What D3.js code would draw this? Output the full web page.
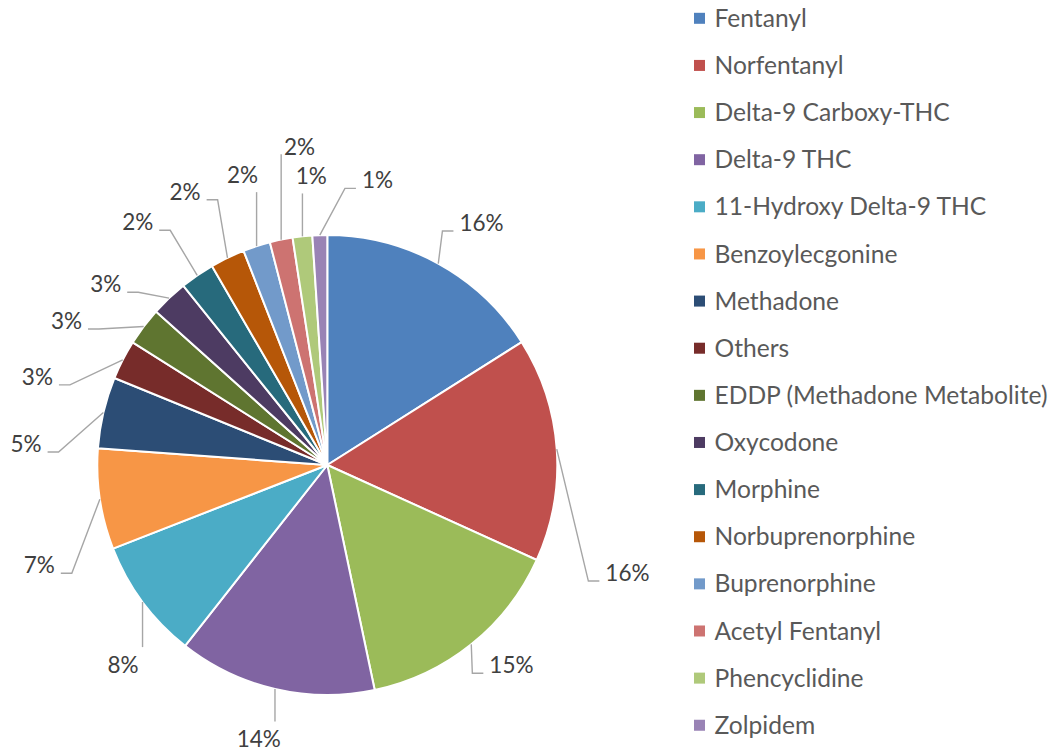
<!DOCTYPE html>
<html>
<head>
<meta charset="utf-8">
<script src="https://cdn.jsdelivr.net/npm/d3@7"></script>
<style>
  html, body { margin: 0; padding: 0; background: #fff; }
  svg { display: block; }
</style>
</head>
<body>
<svg id="chart" width="1056" height="755"></svg>
<script>
// ---- data ----
const categories = [
  "Fentanyl", "Norfentanyl", "Delta-9 Carboxy-THC", "Delta-9 THC",
  "11-Hydroxy Delta-9 THC", "Benzoylecgonine", "Methadone", "Others",
  "EDDP (Methadone Metabolite)", "Oxycodone", "Morphine", "Norbuprenorphine",
  "Buprenorphine", "Acetyl Fentanyl", "Phencyclidine", "Zolpidem"
];
const values = [16.08, 15.8, 14.97, 13.96, 8.5, 7.1, 5.03, 2.78, 2.69, 2.61, 2.42, 2.44, 1.92, 1.61, 1.38, 1.04];
const colors = [
  "#4F81BD", "#C0504D", "#9BBB59", "#8064A2", "#4BACC6", "#F79646",
  "#2C4D75", "#772C2A", "#5F7530", "#4D3B62", "#276A7C", "#B65708",
  "#729ACA", "#CD7371", "#AFC97A", "#9983B5"
];

// ---- label layout (polar position of each label around the pie, and leader attach side) ----
const labelAngles = [32.5, 109.8, 137.4, 194, 225.6, 250.8, 274, 286.9, 298.9, 309.2, 322, 332.5, 343.7, 355, 356.8, 10];
const labelDists  = [287, 319, 272, 283, 286, 305, 302, 303, 298, 286, 308, 308, 302, 319, 289, 289];
const labelSides  = ["L","L","L","B","B","R","R","R","R","R","R","R","T","T","T","L"];

// ---- layout ----
const W = 1056, H = 755;
const cx = 327.3, cy = 465, R = 230;
const FONT = "Lato, 'Open Sans', sans-serif";
const FS_LABEL = 22.5, FS_LEGEND = 24.6;

const svg = d3.select("#chart");
svg.append("rect").attr("width", W).attr("height", H).attr("fill", "#fff");

const total = d3.sum(values);
const pct = d3.format(".0%");
const pie = d3.pie().sort(null).value(d => d)(values);
const arc = d3.arc().innerRadius(0).outerRadius(R);

const g = svg.append("g").attr("transform", `translate(${cx},${cy})`);
g.selectAll("path.slice")
  .data(pie)
  .join("path")
  .attr("class", "slice")
  .attr("d", arc)
  .attr("fill", (d, i) => colors[i])
  .attr("stroke", "#fff")
  .attr("stroke-width", 2)
  .attr("stroke-linejoin", "round");

// labels
const labelG = g.append("g");
pie.forEach((d, i) => {
  const a = labelAngles[i] * Math.PI / 180;
  const lx = labelDists[i] * Math.sin(a);
  const ly = -labelDists[i] * Math.cos(a);
  const t = labelG.append("text")
    .attr("x", lx).attr("y", ly).attr("dy", "0.35em")
    .attr("text-anchor", "middle")
    .attr("font-family", FONT).attr("font-size", FS_LABEL)
    .attr("fill", "#404040")
    .text(pct(d.value / total));
  const bb = t.node().getBBox();
  const mid = (d.startAngle + d.endAngle) / 2;
  const ex = R * Math.sin(mid), ey = -R * Math.cos(mid);
  let pts;
  const side = labelSides[i];
  if (side === "L") {
    const px = bb.x - 6, py = ly + 8;
    pts = [[ex, ey], [px - 11, py], [px, py]];
  } else if (side === "R") {
    const px = bb.x + bb.width + 6, py = ly + 8;
    pts = [[ex, ey], [px + 11, py], [px, py]];
  } else if (side === "T") {
    const inside = ex >= bb.x && ex <= bb.x + bb.width;
    pts = [[ex, ey], [ex, ly + (inside ? 17 : 7)]];
  } else {
    pts = [[ex, ey], [ex, ly - 18]];
  }
  labelG.insert("polyline", "text")
    .attr("points", pts.map(p => p.join(",")).join(" "))
    .attr("fill", "none")
    .attr("stroke", "#A6A6A6")
    .attr("stroke-width", 1.4);
});

// legend
const legX = 694, legY0 = 18.3, legStep = 47.13, sq = 11;
const leg = svg.append("g");
categories.forEach((c, i) => {
  const y = legY0 + i * legStep;
  leg.append("rect")
    .attr("x", legX).attr("y", y - sq / 2)
    .attr("width", sq).attr("height", sq)
    .attr("fill", colors[i]);
  leg.append("text")
    .attr("x", legX + 20.5).attr("y", y).attr("dy", "0.35em")
    .attr("font-family", FONT).attr("font-size", FS_LEGEND)
    .attr("fill", "#595959")
    .text(c);
});
</script>
</body>
</html>
